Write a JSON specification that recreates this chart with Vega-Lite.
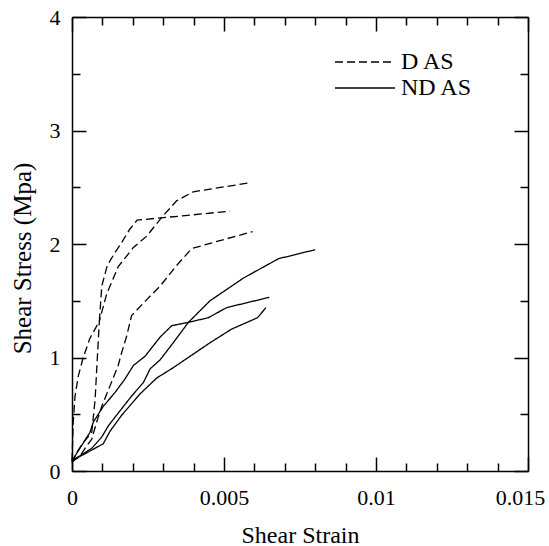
{
"$schema": "https://vega.github.io/schema/vega-lite/v6.json",
"width": 456, "height": 454,
"autosize": {"type": "none"},
"padding": {"left": 72, "top": 17, "right": 21, "bottom": 75},
"background": "white",
"config": {"view": {"stroke": null}, "font": "Times New Roman, Liberation Serif, serif",
 "axis": {"domainColor": "black", "domainWidth": 1.5, "tickColor": "black", "tickWidth": 1.5, "labelColor": "black", "titleColor": "black", "labelFont": "Times New Roman, Liberation Serif, serif", "titleFont": "Times New Roman, Liberation Serif, serif", "labelFontSize": 22, "titleFontSize": 24, "titleFontWeight": "normal", "grid": false, "labelFlush": false, "labelOverlap": false}},
"datasets": {"d": [
{"c":"D1","t":"D AS","x":0,"y":0.09},{"c":"D1","t":"D AS","x":0.00004,"y":0.43},{"c":"D1","t":"D AS","x":0.0001,"y":0.66},{"c":"D1","t":"D AS","x":0.00021,"y":0.84},{"c":"D1","t":"D AS","x":0.00037,"y":1.0},{"c":"D1","t":"D AS","x":0.00059,"y":1.17},{"c":"D1","t":"D AS","x":0.0009,"y":1.32},{"c":"D1","t":"D AS","x":0.00098,"y":1.63},{"c":"D1","t":"D AS","x":0.00116,"y":1.81},{"c":"D1","t":"D AS","x":0.0014,"y":1.92},{"c":"D1","t":"D AS","x":0.00158,"y":1.99},{"c":"D1","t":"D AS","x":0.0019,"y":2.13},{"c":"D1","t":"D AS","x":0.00214,"y":2.21},{"c":"D1","t":"D AS","x":0.0029,"y":2.23},{"c":"D1","t":"D AS","x":0.00372,"y":2.25},{"c":"D1","t":"D AS","x":0.0052,"y":2.29},
{"c":"D2","t":"D AS","x":0,"y":0.07},{"c":"D2","t":"D AS","x":0.00015,"y":0.16},{"c":"D2","t":"D AS","x":0.00037,"y":0.25},{"c":"D2","t":"D AS","x":0.00065,"y":0.34},{"c":"D2","t":"D AS","x":0.00076,"y":0.63},{"c":"D2","t":"D AS","x":0.00083,"y":0.98},{"c":"D2","t":"D AS","x":0.0009,"y":1.32},{"c":"D2","t":"D AS","x":0.00114,"y":1.56},{"c":"D2","t":"D AS","x":0.0013,"y":1.66},{"c":"D2","t":"D AS","x":0.00152,"y":1.8},{"c":"D2","t":"D AS","x":0.00202,"y":1.97},{"c":"D2","t":"D AS","x":0.00246,"y":2.07},{"c":"D2","t":"D AS","x":0.003,"y":2.25},{"c":"D2","t":"D AS","x":0.00344,"y":2.38},{"c":"D2","t":"D AS","x":0.00399,"y":2.46},{"c":"D2","t":"D AS","x":0.00586,"y":2.54},
{"c":"D3","t":"D AS","x":0,"y":0.08},{"c":"D3","t":"D AS","x":0.0001,"y":0.1},{"c":"D3","t":"D AS","x":0.00026,"y":0.13},{"c":"D3","t":"D AS","x":0.00048,"y":0.22},{"c":"D3","t":"D AS","x":0.00065,"y":0.28},{"c":"D3","t":"D AS","x":0.00081,"y":0.43},{"c":"D3","t":"D AS","x":0.00098,"y":0.57},{"c":"D3","t":"D AS","x":0.00125,"y":0.75},{"c":"D3","t":"D AS","x":0.00152,"y":0.93},{"c":"D3","t":"D AS","x":0.00163,"y":1.04},{"c":"D3","t":"D AS","x":0.0018,"y":1.19},{"c":"D3","t":"D AS","x":0.00196,"y":1.37},{"c":"D3","t":"D AS","x":0.00246,"y":1.51},{"c":"D3","t":"D AS","x":0.0029,"y":1.63},{"c":"D3","t":"D AS","x":0.00344,"y":1.81},{"c":"D3","t":"D AS","x":0.00394,"y":1.96},{"c":"D3","t":"D AS","x":0.00594,"y":2.11},
{"c":"S1","t":"ND AS","x":0,"y":0.09},{"c":"S1","t":"ND AS","x":0.00065,"y":0.2},{"c":"S1","t":"ND AS","x":0.00098,"y":0.3},{"c":"S1","t":"ND AS","x":0.0012,"y":0.4},{"c":"S1","t":"ND AS","x":0.00152,"y":0.51},{"c":"S1","t":"ND AS","x":0.00196,"y":0.66},{"c":"S1","t":"ND AS","x":0.00235,"y":0.78},{"c":"S1","t":"ND AS","x":0.00257,"y":0.9},{"c":"S1","t":"ND AS","x":0.0029,"y":0.98},{"c":"S1","t":"ND AS","x":0.00333,"y":1.13},{"c":"S1","t":"ND AS","x":0.00383,"y":1.31},{"c":"S1","t":"ND AS","x":0.00454,"y":1.5},{"c":"S1","t":"ND AS","x":0.00509,"y":1.6},{"c":"S1","t":"ND AS","x":0.00564,"y":1.7},{"c":"S1","t":"ND AS","x":0.00679,"y":1.87},{"c":"S1","t":"ND AS","x":0.008,"y":1.95},
{"c":"S2","t":"ND AS","x":0,"y":0.09},{"c":"S2","t":"ND AS","x":0.00059,"y":0.34},{"c":"S2","t":"ND AS","x":0.0007,"y":0.43},{"c":"S2","t":"ND AS","x":0.00103,"y":0.57},{"c":"S2","t":"ND AS","x":0.00141,"y":0.69},{"c":"S2","t":"ND AS","x":0.00174,"y":0.81},{"c":"S2","t":"ND AS","x":0.00202,"y":0.93},{"c":"S2","t":"ND AS","x":0.0024,"y":1.01},{"c":"S2","t":"ND AS","x":0.0029,"y":1.18},{"c":"S2","t":"ND AS","x":0.00328,"y":1.28},{"c":"S2","t":"ND AS","x":0.00383,"y":1.31},{"c":"S2","t":"ND AS","x":0.00448,"y":1.35},{"c":"S2","t":"ND AS","x":0.00509,"y":1.44},{"c":"S2","t":"ND AS","x":0.00649,"y":1.53},
{"c":"S3","t":"ND AS","x":0,"y":0.09},{"c":"S3","t":"ND AS","x":0.00103,"y":0.24},{"c":"S3","t":"ND AS","x":0.00125,"y":0.35},{"c":"S3","t":"ND AS","x":0.00163,"y":0.49},{"c":"S3","t":"ND AS","x":0.00224,"y":0.68},{"c":"S3","t":"ND AS","x":0.00279,"y":0.82},{"c":"S3","t":"ND AS","x":0.00333,"y":0.91},{"c":"S3","t":"ND AS","x":0.00388,"y":1.01},{"c":"S3","t":"ND AS","x":0.00454,"y":1.13},{"c":"S3","t":"ND AS","x":0.00525,"y":1.25},{"c":"S3","t":"ND AS","x":0.0061,"y":1.35},{"c":"S3","t":"ND AS","x":0.00638,"y":1.44}
]},
"data": {"name": "d"},
"layer": [
 {"mark": {"type": "line", "color": "black", "strokeWidth": 1.3},
  "encoding": {
   "x": {"field": "x", "type": "quantitative", "scale": {"domain": [0, 0.015], "nice": false, "zero": false},
     "axis": {"orient": "bottom", "values": [0,0.001,0.002,0.003,0.004,0.005,0.006,0.007,0.008,0.009,0.01,0.011,0.012,0.013,0.014,0.015],
       "tickSize": {"condition": {"test": "abs(datum.value*200 - round(datum.value*200)) < 0.000001", "value": -14}, "value": -8},
       "labelExpr": "abs(datum.value*200 - round(datum.value*200)) < 0.000001 ? format(datum.value, '~g') : ''",
       "labelOffset": {"condition": {"test": "datum.value > 0.0149", "value": -8}, "value": 0},
       "labelPadding": 30, "title": "Shear Strain", "titleY": 71, "titleBaseline": "alphabetic"}},
   "y": {"field": "y", "type": "quantitative", "scale": {"domain": [0, 4], "nice": false, "zero": false},
     "axis": {"orient": "left", "values": [0,0.5,1,1.5,2,2.5,3,3.5,4],
       "tickSize": {"condition": {"test": "datum.value % 1 == 0", "value": -14}, "value": -8},
       "labelExpr": "datum.value % 1 == 0 ? format(datum.value, 'd') : ''",
       "labelPadding": 26, "title": "Shear Stress (Mpa)", "titleFontSize": 25, "titleX": -50, "titleY": 241, "titleBaseline": "middle", "titleAlign": "center"}},
   "strokeDash": {"field": "t", "type": "nominal", "scale": {"domain": ["D AS", "ND AS"], "range": [[8, 4], [1, 0]]},
     "legend": {"title": null, "orient": "none", "legendX": 281, "legendY": 33, "symbolType": "M-6,0H6", "symbolSize": 100, "symbolStrokeWidth": 1.3, "symbolStrokeColor": "black", "symbolFillColor": "transparent", "labelFontSize": 24, "labelFont": "Times New Roman, Liberation Serif, serif", "labelColor": "black", "labelOffset": 24, "rowPadding": 2}},
   "detail": {"field": "c"}
  }},
 {"mark": {"type": "line", "opacity": 0},
  "encoding": {
   "x": {"field": "x", "type": "quantitative",
     "axis": {"orient": "top", "values": [0,0.001,0.002,0.003,0.004,0.005,0.006,0.007,0.008,0.009,0.01,0.011,0.012,0.013,0.014,0.015],
       "tickSize": {"condition": {"test": "abs(datum.value*200 - round(datum.value*200)) < 0.000001", "value": -14}, "value": -8},
       "labels": false, "title": null}},
   "y": {"field": "y", "type": "quantitative",
     "axis": {"orient": "right", "values": [0,0.5,1,1.5,2,2.5,3,3.5,4],
       "tickSize": {"condition": {"test": "datum.value % 1 == 0", "value": -14}, "value": -8},
       "labels": false, "title": null}},
   "detail": {"field": "c"}
  }}
],
"resolve": {"axis": {"x": "independent", "y": "independent"}}
}
